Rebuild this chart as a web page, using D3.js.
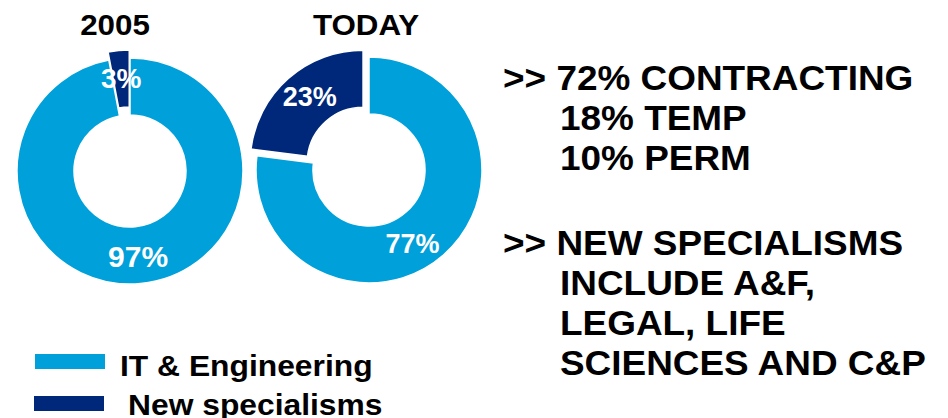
<!DOCTYPE html>
<html>
<head>
<meta charset="utf-8">
<script src="https://cdn.jsdelivr.net/npm/d3@7"></script>
<style>
  html, body { margin: 0; padding: 0; background: #fff; }
  svg text { font-family: "Liberation Sans", Arial, Helvetica, sans-serif; font-weight: bold; }
</style>
</head>
<body>
<svg id="chart" width="948" height="418"></svg>
<script>
// Share of placements by specialism
const categories = ["IT & Engineering", "New specialisms"];
const periods = ["2005", "TODAY"];
const share2005 = [97, 3];
const shareToday = [77, 23];

// Business mix notes
const mixNotes = [">> 72% CONTRACTING", "18% TEMP", "10% PERM"];
const specialismNotes = [">> NEW SPECIALISMS", "INCLUDE A&F,", "LEGAL, LIFE", "SCIENCES AND C&P"];

const svg = d3.select("#chart");

const color = d3.scaleOrdinal()
  .domain(categories)
  .range(["#00A0DA", "#00287A"]);

// Bold text with a slightly wide set, anchored at (x, y)
function wideText(parent, x, y, size, sx, str, anchor) {
  return parent.append("text")
    .attr("transform", `translate(${x},${y}) scale(${sx},1)`)
    .attr("text-anchor", anchor || "start")
    .attr("font-size", size)
    .attr("fill", "#000")
    .text(str);
}

const outerR = 113, innerR = 56;
const arc = d3.arc().innerRadius(innerR).outerRadius(outerR);
const pie = d3.pie().sort(null).value(d => d.value);

const donuts = [
  { title: periods[0], values: share2005, cx: 130, cy: 171, titleX: 115, explode: 8, labelTurn: [0, 0], labelFont: [30, 28] },
  { title: periods[1], values: shareToday, cx: 369, cy: 170, titleX: 366, explode: 9, labelTurn: [0.19, 0.05], labelFont: [27, 27] }
];

donuts.forEach(dn => {
  const g = svg.append("g").attr("transform", `translate(${dn.cx},${dn.cy})`);
  const arcs = pie(categories.map((c, i) => ({ category: c, value: dn.values[i] })));

  const slice = g.selectAll("g.slice")
    .data(arcs)
    .join("g")
    .attr("class", "slice")
    .attr("transform", (d, i) => {
      if (i === 0) return null;
      const mid = (d.startAngle + d.endAngle) / 2;
      return `translate(${Math.sin(mid) * dn.explode},${-Math.cos(mid) * dn.explode})`;
    });

  slice.append("path")
    .attr("d", arc)
    .attr("fill", d => color(d.data.category))
    .attr("stroke", "#fff")
    .attr("stroke-width", 1.5);

  slice.append("text")
    .attr("transform", (d, i) => {
      const mid = (d.startAngle + d.endAngle) / 2 + dn.labelTurn[i];
      const lr = (innerR + outerR) / 2 + 1;
      return `translate(${Math.sin(mid) * lr},${-Math.cos(mid) * lr})`;
    })
    .attr("text-anchor", "middle")
    .attr("dy", "0.36em")
    .attr("fill", "#fff")
    .attr("font-size", (d, i) => dn.labelFont[i])
    .text(d => d.data.value + "%");

  wideText(svg, dn.titleX, 35, 29, 1.08, dn.title, "middle");
});

// Legend
const legend = svg.append("g");
const legendRows = [{ y: 354, tx: 120, ty: 376 }, { y: 396, tx: 128, ty: 415 }];
categories.forEach((c, i) => {
  const r = legendRows[i];
  legend.append("rect")
    .attr("x", 35 - i).attr("y", r.y)
    .attr("width", 70).attr("height", 15)
    .attr("fill", color(c));
  wideText(legend, r.tx, r.ty, 30, 1.06, c);
});

// Notes on the right
function noteBlock(lines, baseY) {
  const g = svg.append("g");
  lines.forEach((t, i) => {
    wideText(g, i === 0 ? 503 : 560, baseY + i * 40, 35, 1.055, t);
  });
}
noteBlock(mixNotes, 90);
noteBlock(specialismNotes, 255);
</script>
</body>
</html>
